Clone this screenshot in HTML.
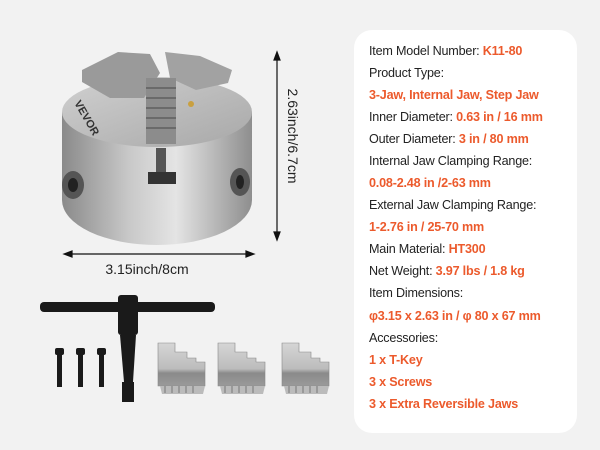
<!DOCTYPE html>
<html><head><meta charset="utf-8"><style>
body{margin:0;width:600px;height:450px;background:#f2f2f2;overflow:hidden;position:relative;font-family:"Liberation Sans",sans-serif}
.panel{position:absolute;left:354px;top:30px;width:223px;height:403px;background:#fff;border-radius:18px}
.t{position:absolute;left:369px;font-size:12.6px;color:#222;white-space:nowrap;letter-spacing:-0.2px}
.o{color:#ec5a2c;font-weight:bold}
</style></head><body>
<svg width="354" height="450" style="position:absolute;left:0;top:0">
<defs>
<linearGradient id="body" x1="0" x2="1"><stop offset="0" stop-color="#8a8a8a"/><stop offset="0.35" stop-color="#c8c8c8"/><stop offset="0.6" stop-color="#e4e4e4"/><stop offset="1" stop-color="#8e8e8e"/></linearGradient>
<linearGradient id="top" x1="0" x2="1" y1="0" y2="1"><stop offset="0" stop-color="#d0d0d0"/><stop offset="1" stop-color="#a8a8a8"/></linearGradient>
<linearGradient id="jaw" x1="0" x2="0" y1="0" y2="1"><stop offset="0" stop-color="#d6d6d6"/><stop offset="0.6" stop-color="#bcbcbc"/><stop offset="0.7" stop-color="#8a8a8a"/><stop offset="1" stop-color="#9a9a9a"/></linearGradient>
</defs>
<path d="M62 112 L62 200 A95 45 0 0 0 252 200 L252 112 Z" fill="url(#body)"/>
<ellipse cx="157" cy="112" rx="95" ry="35" fill="url(#top)"/>
<path d="M82 70 L118 52 L150 54 L160 73 L144 98 L110 98 L82 82Z" fill="#9a9a9a"/>
<path d="M165 52 L200 56 L232 70 L228 83 L196 90 L170 78Z" fill="#a2a2a2"/>
<rect x="146" y="78" width="30" height="66" fill="#8c8c8c"/>
<g stroke="#6a6a6a" stroke-width="2"><line x1="146" y1="88" x2="176" y2="88"/><line x1="146" y1="98" x2="176" y2="98"/><line x1="146" y1="108" x2="176" y2="108"/><line x1="146" y1="118" x2="176" y2="118"/><line x1="146" y1="128" x2="176" y2="128"/></g>
<rect x="148" y="172" width="28" height="12" fill="#333"/>
<rect x="156" y="148" width="10" height="24" fill="#555"/>
<circle cx="191" cy="104" r="3" fill="#c9a040"/>
<text x="0" y="0" transform="translate(74,103) rotate(60)" font-size="11" font-weight="bold" fill="#333">VEVOR</text>
<ellipse cx="73" cy="185" rx="11" ry="14" fill="#555"/><ellipse cx="73" cy="185" rx="5" ry="7" fill="#222"/>
<ellipse cx="240" cy="182" rx="10" ry="14" fill="#555"/><ellipse cx="240" cy="182" rx="4" ry="7" fill="#222"/>
<g stroke="#111" stroke-width="1.2" fill="#111">
<line x1="68" y1="254" x2="250" y2="254"/><path d="M64 254 l8 -3 v6z"/><path d="M254 254 l-8 -3 v6z"/>
<line x1="277" y1="56" x2="277" y2="236"/><path d="M277 52 l-3 8 h6z"/><path d="M277 240 l-3 -8 h6z"/>
</g>
<text x="147" y="274" font-size="14" text-anchor="middle" fill="#222" font-family="Liberation Sans">3.15inch/8cm</text>
<text transform="translate(288,136) rotate(90)" font-size="14" text-anchor="middle" fill="#222" font-family="Liberation Sans">2.63inch/6.7cm</text>
<rect x="40" y="302" width="175" height="10" rx="4" fill="#1a1a1a"/>
<rect x="118" y="295" width="20" height="40" rx="3" fill="#1a1a1a"/>
<path d="M120 335 L136 335 L133 382 L124 382Z" fill="#1a1a1a"/>
<rect x="122" y="382" width="12" height="20" fill="#1a1a1a"/>
<g fill="#1a1a1a"><rect x="55" y="348" width="9" height="7" rx="2"/><rect x="57" y="354" width="5" height="33"/>
<rect x="76" y="348" width="9" height="7" rx="2"/><rect x="78" y="354" width="5" height="33"/>
<rect x="97" y="348" width="9" height="7" rx="2"/><rect x="99" y="354" width="5" height="33"/></g>
<g id="j"><path d="M158 343 L175 343 L175 352 L187 352 L187 358 L196 358 L196 362 L205 362 L205 386 L158 386Z" fill="url(#jaw)" stroke="#888" stroke-width="0.6"/>
<path d="M160 386 h45 l-2 8 h-41z" fill="#bbb"/>
<g stroke="#777"><line x1="165" y1="386" x2="165" y2="393"/><line x1="172" y1="386" x2="172" y2="393"/><line x1="179" y1="386" x2="179" y2="393"/><line x1="186" y1="386" x2="186" y2="393"/><line x1="193" y1="386" x2="193" y2="393"/></g></g>
<use href="#j" x="60"/><use href="#j" x="124"/>
</svg>
<div class="panel"></div>
<div class="t" style="top:44px">Item Model Number: <span class="o">K11-80</span></div>
<div class="t" style="top:66px">Product Type:</div>
<div class="t" style="top:88px"><span class="o">3-Jaw, Internal Jaw, Step Jaw</span></div>
<div class="t" style="top:110px">Inner Diameter: <span class="o">0.63 in / 16 mm</span></div>
<div class="t" style="top:132px">Outer Diameter: <span class="o">3 in / 80 mm</span></div>
<div class="t" style="top:154px">Internal Jaw Clamping Range:</div>
<div class="t" style="top:176px"><span class="o">0.08-2.48 in /2-63 mm</span></div>
<div class="t" style="top:198px">External Jaw Clamping Range:</div>
<div class="t" style="top:220px"><span class="o">1-2.76 in / 25-70 mm</span></div>
<div class="t" style="top:242px">Main Material: <span class="o">HT300</span></div>
<div class="t" style="top:264px">Net Weight: <span class="o">3.97 lbs / 1.8 kg</span></div>
<div class="t" style="top:286px">Item Dimensions:</div>
<div class="t" style="top:309px"><span class="o">φ3.15 x 2.63 in / φ 80 x 67 mm</span></div>
<div class="t" style="top:331px">Accessories:</div>
<div class="t" style="top:353px"><span class="o">1 x T-Key</span></div>
<div class="t" style="top:375px"><span class="o">3 x Screws</span></div>
<div class="t" style="top:397px"><span class="o">3 x Extra Reversible Jaws</span></div>
</body></html>
